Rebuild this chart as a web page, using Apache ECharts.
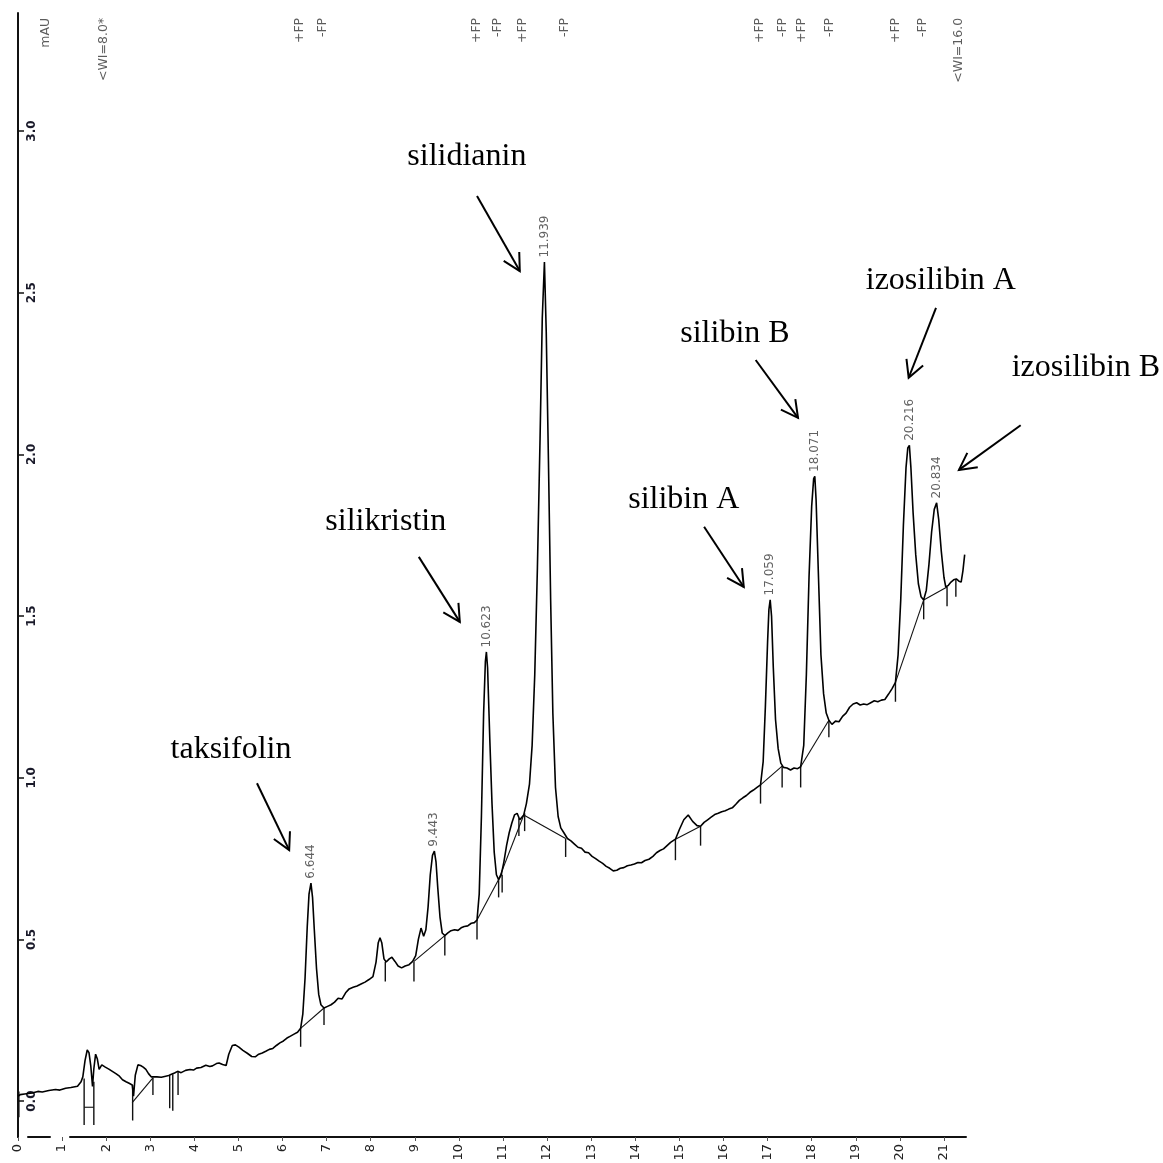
<!DOCTYPE html>
<html><head><meta charset="utf-8">
<script src="https://cdn.jsdelivr.net/npm/echarts@6/dist/echarts.min.js"></script>
<style>html,body{margin:0;padding:0;background:#fff}#c{width:1163px;height:1163px}</style>
</head><body><div id="c"></div>
<script>
// ---- axis ticks ----
const xTicks = [0,1,2,3,4,5,6,7,8,9,10,11,12,13,14,15,16,17,18,19,20,21];
const yTicks = [0,0.5,1.0,1.5,2.0,2.5,3.0];

// ---- chromatogram trace: [time (min), absorbance (mAU)] ----
const trace = [
[0.00,0.015],[0.05,0.020],[0.15,0.022],[0.32,0.025],[0.45,0.030],[0.55,0.028],[0.70,0.033],[0.85,0.036],[0.95,0.034],
[1.08,0.040],[1.20,0.042],[1.35,0.046],[1.43,0.060],[1.47,0.075],[1.52,0.125],[1.57,0.158],[1.61,0.150],[1.65,0.110],
[1.69,0.045],[1.72,0.100],[1.76,0.145],[1.80,0.130],[1.84,0.098],[1.90,0.112],[1.98,0.105],[2.06,0.099],[2.14,0.092],
[2.22,0.085],[2.30,0.077],[2.37,0.066],[2.45,0.060],[2.52,0.055],[2.59,0.050],[2.62,0.015],[2.66,0.080],[2.72,0.112],
[2.78,0.110],[2.84,0.105],[2.90,0.098],[2.96,0.085],[3.02,0.075],[3.06,0.072],[3.15,0.075],[3.25,0.074],[3.35,0.077],
[3.42,0.079],[3.48,0.083],[3.55,0.087],[3.62,0.092],[3.70,0.088],[3.80,0.095],[3.90,0.098],[3.98,0.096],[4.05,0.102],
[4.15,0.104],[4.26,0.111],[4.35,0.107],[4.41,0.109],[4.50,0.116],[4.56,0.118],[4.64,0.113],[4.72,0.110],[4.78,0.145],
[4.86,0.172],[4.93,0.174],[5.01,0.167],[5.10,0.157],[5.20,0.148],[5.30,0.138],[5.38,0.137],[5.46,0.145],[5.54,0.149],
[5.62,0.154],[5.70,0.160],[5.78,0.163],[5.86,0.172],[5.94,0.180],[6.02,0.186],[6.10,0.195],[6.18,0.201],[6.26,0.207],
[6.34,0.213],[6.41,0.225],[6.46,0.270],[6.51,0.380],[6.56,0.540],[6.60,0.640],[6.644,0.674],[6.68,0.630],[6.72,0.530],
[6.77,0.410],[6.82,0.330],[6.87,0.298],[6.94,0.288],[7.02,0.293],[7.10,0.298],[7.18,0.306],[7.26,0.318],[7.35,0.316],
[7.43,0.335],[7.51,0.347],[7.60,0.352],[7.69,0.356],[7.78,0.362],[7.87,0.368],[7.96,0.376],[8.05,0.385],[8.12,0.430],
[8.17,0.490],[8.21,0.505],[8.25,0.490],[8.30,0.440],[8.35,0.430],[8.42,0.440],[8.48,0.445],[8.55,0.432],[8.62,0.418],
[8.70,0.412],[8.78,0.418],[8.87,0.422],[8.95,0.432],[9.02,0.450],[9.08,0.500],[9.14,0.535],[9.20,0.510],[9.25,0.530],
[9.30,0.600],[9.35,0.700],[9.40,0.760],[9.443,0.773],[9.48,0.740],[9.52,0.660],[9.57,0.570],[9.62,0.520],[9.68,0.512],
[9.75,0.520],[9.82,0.527],[9.90,0.530],[9.98,0.528],[10.05,0.536],[10.12,0.540],[10.20,0.542],[10.28,0.550],[10.35,0.552],
[10.41,0.560],[10.46,0.640],[10.51,0.880],[10.56,1.200],[10.60,1.360],[10.623,1.389],[10.65,1.340],[10.70,1.120],
[10.75,0.920],[10.80,0.770],[10.85,0.700],[10.90,0.685],[10.96,0.700],[11.02,0.740],[11.08,0.790],[11.14,0.830],
[11.20,0.860],[11.26,0.885],[11.32,0.890],[11.38,0.870],[11.42,0.865],[11.47,0.885],[11.53,0.920],[11.60,0.980],
[11.66,1.100],[11.72,1.320],[11.78,1.650],[11.84,2.050],[11.89,2.420],[11.939,2.595],[11.98,2.380],[12.03,1.980],
[12.08,1.550],[12.13,1.200],[12.19,0.970],[12.25,0.880],[12.31,0.845],[12.38,0.830],[12.46,0.812],[12.54,0.805],
[12.62,0.795],[12.70,0.785],[12.78,0.782],[12.86,0.770],[12.94,0.768],[13.02,0.757],[13.10,0.750],[13.18,0.742],
[13.26,0.735],[13.34,0.726],[13.42,0.720],[13.50,0.712],[13.58,0.714],[13.66,0.720],[13.74,0.722],[13.82,0.728],
[13.90,0.730],[13.98,0.733],[14.06,0.738],[14.14,0.737],[14.22,0.744],[14.31,0.748],[14.40,0.757],[14.48,0.768],
[14.56,0.775],[14.64,0.780],[14.72,0.790],[14.80,0.800],[14.91,0.810],[15.00,0.840],[15.10,0.870],[15.20,0.885],
[15.30,0.865],[15.40,0.852],[15.48,0.850],[15.56,0.862],[15.64,0.870],[15.72,0.878],[15.80,0.886],[15.88,0.890],
[15.96,0.895],[16.04,0.898],[16.12,0.903],[16.20,0.907],[16.28,0.918],[16.36,0.930],[16.44,0.938],[16.52,0.945],
[16.60,0.955],[16.68,0.962],[16.76,0.970],[16.84,0.978],[16.90,1.050],[16.95,1.220],[17.00,1.420],[17.03,1.520],
[17.059,1.550],[17.09,1.500],[17.13,1.340],[17.18,1.180],[17.24,1.090],[17.30,1.045],[17.36,1.032],[17.44,1.030],
[17.52,1.024],[17.60,1.030],[17.68,1.028],[17.75,1.034],[17.82,1.100],[17.88,1.320],[17.94,1.620],[18.00,1.840],
[18.045,1.925],[18.071,1.932],[18.10,1.860],[18.15,1.640],[18.21,1.380],[18.27,1.260],[18.33,1.200],[18.39,1.178],
[18.46,1.165],[18.54,1.175],[18.62,1.173],[18.70,1.190],[18.78,1.200],[18.86,1.218],[18.94,1.228],[19.02,1.232],
[19.10,1.225],[19.18,1.228],[19.26,1.226],[19.34,1.232],[19.42,1.238],[19.50,1.235],[19.58,1.240],[19.66,1.242],
[19.74,1.258],[19.82,1.275],[19.90,1.295],[19.96,1.380],[20.02,1.550],[20.08,1.780],[20.14,1.960],[20.18,2.020],
[20.216,2.028],[20.25,1.960],[20.30,1.820],[20.36,1.690],[20.42,1.600],[20.48,1.560],[20.54,1.550],[20.60,1.580],
[20.66,1.660],[20.72,1.760],[20.78,1.830],[20.834,1.850],[20.88,1.800],[20.94,1.700],[21.00,1.620],[21.04,1.590],
[21.10,1.595],[21.16,1.605],[21.22,1.612],[21.28,1.615],[21.34,1.608],[21.39,1.605],[21.43,1.640],[21.47,1.690]
];

// ---- labelled peaks ----
const peakTimes   = [6.644, 9.443, 10.623, 11.939, 17.059, 18.071, 20.216, 20.834];
const peakHeights = [0.674, 0.773, 1.389, 2.595, 1.550, 1.932, 2.028, 1.850];
const peakLabels  = ['6.644','9.443','10.623','11.939','17.059','18.071','20.216','20.834'];

// ---- integration events along the top ----
const eventTimes  = [0.62, 1.95, 6.40, 6.92, 10.40, 10.88, 11.44, 12.40, 16.83, 17.34, 17.78, 18.42, 19.90, 20.51, 21.34];
const eventLabels = ['mAU','<WI=8.0*','+FP','-FP','+FP','-FP','+FP','-FP','+FP','-FP','+FP','-FP','+FP','-FP','<WI=16.0'];
const eventLevel  = 3.35;

// ---- integration baselines [t1, v1, t2, v2] ----
const baselines = [
[1.50,-0.019,1.72,-0.019],[2.59,-0.005,3.06,0.072],[6.41,0.225,6.94,0.288],[8.98,0.432,9.68,0.512],
[10.41,0.560,10.90,0.685],[10.90,0.685,11.47,0.885],[11.47,0.885,12.42,0.812],[14.91,0.810,15.48,0.850],
[16.84,0.978,17.33,1.036],[17.75,1.034,18.39,1.178],[19.90,1.295,20.54,1.550],[20.54,1.550,21.07,1.590]
];

// ---- peak start / end tick marks [t, top, bottom] ----
const markers = [
[0.02,0.030,-0.050],[1.50,0.070,-0.074],[1.72,0.060,-0.074],[2.60,0.050,-0.060],[3.06,0.072,0.019],
[3.44,0.079,-0.022],[3.51,0.083,-0.030],[3.63,0.090,0.019],[6.41,0.225,0.168],[6.94,0.288,0.235],
[8.33,0.430,0.370],[8.98,0.432,0.370],[9.68,0.512,0.450],[10.41,0.560,0.500],[10.90,0.685,0.630],
[10.98,0.700,0.645],[11.36,0.875,0.820],[11.49,0.890,0.835],[12.42,0.812,0.755],[14.91,0.810,0.745],
[15.48,0.850,0.790],[16.84,0.978,0.920],[17.33,1.036,0.970],[17.75,1.034,0.970],[18.39,1.178,1.125],
[19.90,1.295,1.235],[20.54,1.550,1.490],[21.07,1.590,1.530],[21.27,1.615,1.560]
];

// ---- compound annotations (data coordinates) ----
const compoundNames = ['taksifolin','silikristin','silidianin','silibin A','silibin B','izosilibin A','izosilibin B'];
const compoundLabelAt = [[4.83,1.086],[8.34,1.791],[10.18,2.920],[15.10,1.859],[16.26,2.375],[20.93,2.539],[24.22,2.267]];
const arrowFrom = [[5.42,0.983],[9.09,1.683],[10.41,2.799],[15.56,1.776],[16.73,2.292],[20.82,2.453],[22.74,2.090]];
const arrowTo   = [[6.15,0.776],[10.02,1.482],[11.38,2.567],[16.46,1.590],[17.69,2.113],[20.20,2.237],[21.34,1.952]];

const chart = echarts.init(document.getElementById('c'), null, {renderer:'canvas'});

const annData = compoundNames.map((n,i)=>[compoundLabelAt[i][0],compoundLabelAt[i][1],arrowFrom[i][0],arrowFrom[i][1],arrowTo[i][0],arrowTo[i][1]]);

chart.setOption({
  animation:false,
  backgroundColor:'#fff',
  grid:{left:18,right:197,top:13,bottom:26,containLabel:false,outerBoundsMode:'none'},
  xAxis:{
    type:'value',min:0,max:21.5,
    axisLine:{show:true,onZero:false,lineStyle:{color:'#111',width:2,type:[0,10,22,20,3000]}},
    axisTick:{show:true,customValues:xTicks,length:4,lineStyle:{color:'#555',width:1}},
    axisLabel:{show:true,customValues:xTicks,rotate:90,margin:7,fontFamily:'DejaVu Sans',fontSize:13,color:'#222'},
    splitLine:{show:false}
  },
  yAxis:{
    type:'value',min:-0.111,max:3.365,
    axisLine:{show:true,onZero:false,lineStyle:{color:'#111',width:2}},
    axisTick:{show:true,inside:true,customValues:yTicks,length:6,lineStyle:{color:'#111',width:1.5}},
    axisLabel:{show:true,inside:true,customValues:yTicks,rotate:90,margin:8,formatter:v=>v.toFixed(1),
      fontFamily:'DejaVu Sans',fontWeight:'bold',fontSize:12,color:'#1a1a2a'},
    splitLine:{show:false}
  },
  series:[
    {type:'line',data:trace,showSymbol:false,symbol:'none',lineStyle:{color:'#000',width:1.6},z:3,clip:false},
    {type:'custom',coordinateSystem:'cartesian2d',data:baselines,z:2,
      renderItem:(p,api)=>{const a=api.coord([api.value(0),api.value(1)]);const b=api.coord([api.value(2),api.value(3)]);
        return {type:'line',shape:{x1:a[0],y1:a[1],x2:b[0],y2:b[1]},style:{stroke:'#111',lineWidth:1.1}};}},
    {type:'custom',coordinateSystem:'cartesian2d',data:markers,z:2,
      renderItem:(p,api)=>{const a=api.coord([api.value(0),api.value(1)]);const b=api.coord([api.value(0),api.value(2)]);
        return {type:'line',shape:{x1:a[0],y1:a[1],x2:b[0],y2:b[1]},style:{stroke:'#111',lineWidth:1.4}};}},
    {type:'scatter',data:peakTimes.map((t,i)=>({value:[t,peakHeights[i]],name:peakLabels[i]})),
      symbolSize:1,itemStyle:{color:'rgba(0,0,0,0)'},z:4,
      label:{show:true,formatter:p=>p.name,position:'top',distance:4,rotate:90,align:'left',verticalAlign:'middle',
        fontFamily:'DejaVu Sans',fontSize:12,color:'#3a3a3a'}},
    {type:'scatter',data:eventTimes.map((t,i)=>({value:[t,eventLevel],name:eventLabels[i]})),
      symbolSize:1,itemStyle:{color:'rgba(0,0,0,0)'},z:4,
      label:{show:true,formatter:p=>p.name,position:'inside',rotate:90,align:'right',verticalAlign:'middle',
        fontFamily:'DejaVu Sans',fontSize:12.5,color:'#333'}},
    {type:'custom',coordinateSystem:'cartesian2d',data:annData,z:5,clip:false,
      renderItem:(p,api)=>{
        const i=p.dataIndex;
        const L=api.coord([api.value(0),api.value(1)]);
        const A=api.coord([api.value(2),api.value(3)]);
        const B=api.coord([api.value(4),api.value(5)]);
        const ang=Math.atan2(B[1]-A[1],B[0]-A[0]);
        const h=19,w=0.49;
        const p1=[B[0]-h*Math.cos(ang-w),B[1]-h*Math.sin(ang-w)];
        const p2=[B[0]-h*Math.cos(ang+w),B[1]-h*Math.sin(ang+w)];
        return {type:'group',children:[
          {type:'text',style:{x:L[0],y:L[1],text:compoundNames[i],fontFamily:'Liberation Serif',fontSize:32,fill:'#000',align:'center',verticalAlign:'middle'}},
          {type:'line',shape:{x1:A[0],y1:A[1],x2:B[0],y2:B[1]},style:{stroke:'#000',lineWidth:2}},
          {type:'polyline',shape:{points:[p1,B,p2]},style:{stroke:'#000',lineWidth:2,fill:null}}
        ]};
      }}
  ]
});
</script></body></html>
